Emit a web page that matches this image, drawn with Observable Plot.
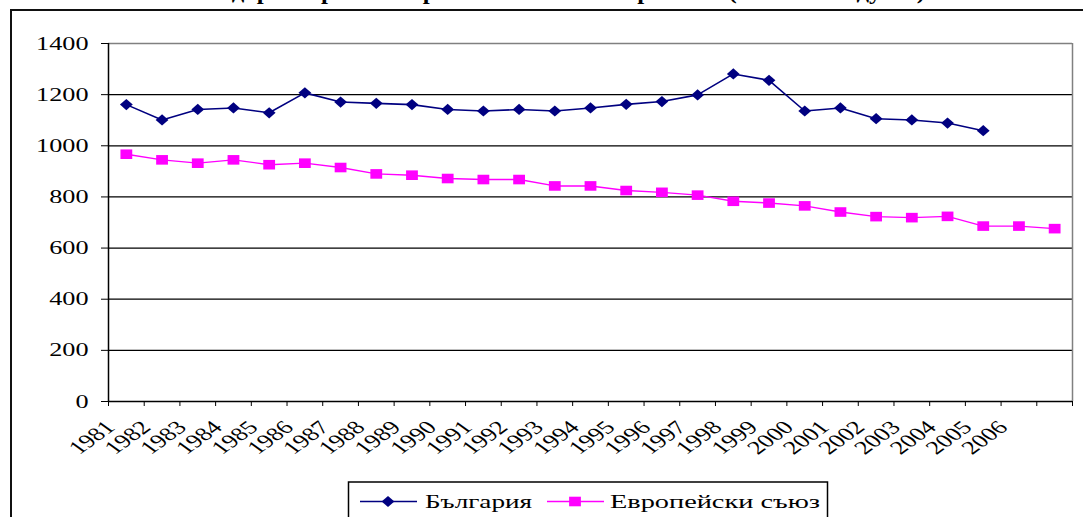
<!DOCTYPE html>
<html><head><meta charset="utf-8">
<script src="https://cdn.jsdelivr.net/npm/d3@7"></script>
<script src="https://cdn.jsdelivr.net/npm/@observablehq/plot@0.6"></script>
<style>
html,body{margin:0;padding:0;background:#fff;}
#chart{position:relative;width:1083px;height:517px;overflow:hidden;background:#fff;}
</style></head><body><div id="chart"></div>
<script>
// ---- data ----
const years = [1981,1982,1983,1984,1985,1986,1987,1988,1989,1990,1991,1992,1993,1994,1995,1996,1997,1998,1999,2000,2001,2002,2003,2004,2005,2006,2007];
const bulgaria = [1161,1101,1142,1148,1129,1207,1171,1166,1161,1142,1136,1142,1136,1148,1162,1173,1199,1281,1256,1136,1148,1106,1101,1089,1059];
const eu = [967,945,932,945,926,932,915,890,885,872,868,868,843,843,825,818,807,783,776,765,741,723,719,724,686,686,676];
const xLabels = ["1981","1982","1983","1984","1985","1986","1987","1988","1989","1990","1991","1992","1993","1994","1995","1996","1997","1998","1999","2000","2001","2002","2003","2004","2005","2006"];
const yTicks = [0,200,400,600,800,1000,1200,1400];
const seriesNames = ["България","Европейски съюз"];
const seriesColors = ["#000080","#FF00FF"];
const titleText = "Стандартизирана смъртност от всички причини (на 100 000 души)";

// ---- derived tables ----
const bgRows = bulgaria.map((v,i)=>({year:years[i], value:v}));
const euRows = eu.map((v,i)=>({year:years[i], value:v}));
const labelRows = xLabels.map(s=>({year:+s, text:s}));
const edges = years.map(y=>y-0.5).concat([years[years.length-1]+0.5]);
const gridVals = yTicks.filter(v=>v>0 && v<yTicks[yTicks.length-1]);

const diamond = {draw(ctx){const w=6.4,h=5.6;ctx.moveTo(-w,0);ctx.lineTo(0,-h);ctx.lineTo(w,0);ctx.lineTo(0,h);ctx.closePath();}};
const square = {draw(ctx){const w=5.9,h=4.8;ctx.rect(-w,-h,2*w,2*h);}};

const FONT = "'Liberation Serif','Times New Roman',serif";
const STRETCH = 1.38;

const plot = Plot.plot({
  width:1083, height:517,
  marginLeft:108, marginRight:11, marginTop:43, marginBottom:116,
  style:{fontFamily:FONT, fontSize:"19px", background:"white", color:"black", overflow:"hidden"},
  x:{type:"linear", domain:[edges[0], edges[edges.length-1]], axis:null},
  y:{domain:[0,1400], axis:null},
  marks:[
    Plot.ruleY(gridVals, {stroke:"black", strokeWidth:1.2}),
    Plot.ruleY([1400], {stroke:"#808080", strokeWidth:1.5}),
    Plot.ruleX([edges[edges.length-1]], {stroke:"#808080", strokeWidth:1.5}),
    Plot.ruleX([edges[0]], {stroke:"black", strokeWidth:1.5}),
    Plot.ruleY([0], {stroke:"black", strokeWidth:1.5}),
    Plot.axisY({ticks:yTicks, tickSize:7, tickFormat:()=>"", label:null}),
    Plot.axisX({ticks:edges, tickSize:5, tickFormat:()=>"", label:null}),
    Plot.text(yTicks, {x:()=>edges[0], y:d=>d, text:d=>String(d), textAnchor:"end", dx:-20, fontSize:19, fill:"black"}),
    Plot.text(labelRows, {x:"year", y:()=>0, text:"text", rotate:-45, textAnchor:"end", lineAnchor:"bottom", dx:-10, dy:27, fontSize:19, fill:"black"}),
    Plot.line(euRows, {x:"year", y:"value", stroke:seriesColors[1], strokeWidth:1.4}),
    Plot.line(bgRows, {x:"year", y:"value", stroke:seriesColors[0], strokeWidth:1.6}),
    Plot.dot(euRows, {x:"year", y:"value", symbol:square, r:5, fill:seriesColors[1], stroke:"none"}),
    Plot.dot(bgRows, {x:"year", y:"value", symbol:diamond, r:5, fill:seriesColors[0], stroke:"none"})
  ]
});

document.getElementById("chart").appendChild(plot);

// stretch text horizontally (the reference is horizontally stretched)
d3.select(plot).selectAll("text").each(function(){
  const t = this.getAttribute("transform") || "";
  if (/rotate\(/.test(t)) {
    this.setAttribute("transform", t.replace(/\s*rotate\(/, ` scale(${STRETCH},1) rotate(`));
  } else if (this.textContent) {
    const len = this.getComputedTextLength();
    if (len > 0) {
      this.setAttribute("textLength", len*STRETCH);
      this.setAttribute("lengthAdjust", "spacingAndGlyphs");
    }
  }
});

const svg = d3.select(plot);
// outer chart frame
svg.append("rect").attr("x",11).attr("y",10).attr("width",1200).attr("height",1000)
  .attr("fill","none").attr("stroke","#111").attr("stroke-width",2);
// title (mostly above the visible area, as in the reference)
svg.append("text").attr("x",550).attr("y",-1.5).attr("text-anchor","middle")
  .attr("font-family",FONT).attr("font-weight","bold").attr("font-size",20)
  .attr("textLength",750).attr("lengthAdjust","spacingAndGlyphs").attr("fill","black").text(titleText);
// legend
const lg = svg.append("g");
lg.append("rect").attr("x",348.5).attr("y",482).attr("width",479).attr("height",60)
  .attr("fill","white").attr("stroke","black").attr("stroke-width",1.5);
const items = [
  {lx1:360, lx2:417, sx:388, tx:425, tl:107, sym:diamond},
  {lx1:547, lx2:604, sx:575, tx:610, tl:210, sym:square}
];
items.forEach((it,i)=>{
  lg.append("line").attr("x1",it.lx1).attr("x2",it.lx2).attr("y1",501.5).attr("y2",501.5)
    .attr("stroke",seriesColors[i]).attr("stroke-width",1.5);
  lg.append("path").attr("d",d3.symbol(it.sym)()).attr("transform",`translate(${it.sx},501.5)`).attr("fill",seriesColors[i]);
  lg.append("text").attr("x",it.tx).attr("y",507.5).attr("text-anchor","start").attr("font-family",FONT).attr("font-size",19)
    .attr("textLength",it.tl).attr("lengthAdjust","spacingAndGlyphs").attr("fill","black").text(seriesNames[i]);
});
</script>
</body></html>
